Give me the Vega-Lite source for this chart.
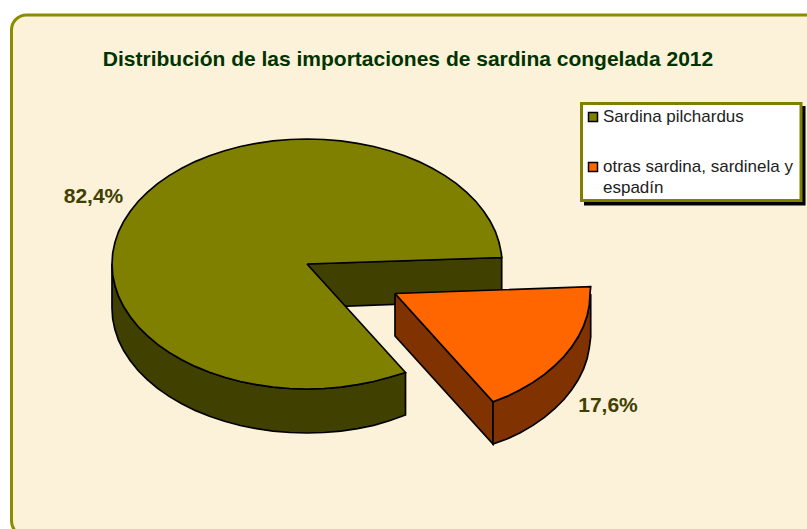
{"$schema":"https://vega.github.io/schema/vega-lite/v6.json","width":807,"height":529,"autosize":{"type":"fit","contains":"padding"},"padding":0,"background":"#ffffff","view":{"stroke":null},
"datasets":{
"panel":[{"x":11.5,"y":15,"x2":840,"y2":536}],
"sombra":[{"x":584,"y":106,"x2":805.5,"y2":205.5}],
"caja":[{"x":581.5,"y":103.5,"x2":801,"y2":200.5}],
"pie":[
{"pieza":"pared interior","n":1,"x":307,"y":264},{"pieza":"pared interior","n":2,"x":501.7,"y":257.5},{"pieza":"pared interior","n":3,"x":501.7,"y":300.5},{"pieza":"pared interior","n":4,"x":307,"y":307.5},{"pieza":"pared interior","n":5,"x":307,"y":264},
{"pieza":"pared exterior","n":1,"x":405.5,"y":372.5},{"pieza":"pared exterior","n":1.5,"x":389.4,"y":377.3},{"pieza":"pared exterior","n":2,"x":373.7,"y":381.5},{"pieza":"pared exterior","n":2.5,"x":357.5,"y":384.7},{"pieza":"pared exterior","n":3,"x":340.9,"y":387.1},{"pieza":"pared exterior","n":3.5,"x":324,"y":388.5},{"pieza":"pared exterior","n":4,"x":307,"y":389},{"pieza":"pared exterior","n":4.5,"x":290,"y":388.5},{"pieza":"pared exterior","n":5,"x":273.1,"y":387.1},{"pieza":"pared exterior","n":5.5,"x":256.5,"y":384.7},{"pieza":"pared exterior","n":6,"x":240.3,"y":381.5},{"pieza":"pared exterior","n":6.5,"x":224.6,"y":377.3},{"pieza":"pared exterior","n":7,"x":209.5,"y":372.3},{"pieza":"pared exterior","n":7.5,"x":195.1,"y":366.4},{"pieza":"pared exterior","n":8,"x":181.7,"y":359.8},{"pieza":"pared exterior","n":8.5,"x":169.1,"y":352.4},{"pieza":"pared exterior","n":9,"x":157.6,"y":344.4},{"pieza":"pared exterior","n":9.5,"x":147.3,"y":335.7},{"pieza":"pared exterior","n":10,"x":138.1,"y":326.5},{"pieza":"pared exterior","n":10.5,"x":130.3,"y":316.8},{"pieza":"pared exterior","n":11,"x":123.8,"y":306.8},{"pieza":"pared exterior","n":11.5,"x":118.6,"y":296.4},{"pieza":"pared exterior","n":12,"x":115,"y":285.7},{"pieza":"pared exterior","n":12.5,"x":112.7,"y":274.9},{"pieza":"pared exterior","n":13,"x":112,"y":264},
{"pieza":"pared exterior","n":14,"x":112,"y":308},{"pieza":"pared exterior","n":14.5,"x":112.7,"y":318.9},{"pieza":"pared exterior","n":15,"x":115,"y":329.7},{"pieza":"pared exterior","n":15.5,"x":118.6,"y":340.4},{"pieza":"pared exterior","n":16,"x":123.8,"y":350.8},{"pieza":"pared exterior","n":16.5,"x":130.3,"y":360.8},{"pieza":"pared exterior","n":17,"x":138.1,"y":370.5},{"pieza":"pared exterior","n":17.5,"x":147.3,"y":379.7},{"pieza":"pared exterior","n":18,"x":157.6,"y":388.4},{"pieza":"pared exterior","n":18.5,"x":169.1,"y":396.4},{"pieza":"pared exterior","n":19,"x":181.7,"y":403.8},{"pieza":"pared exterior","n":19.5,"x":195.1,"y":410.4},{"pieza":"pared exterior","n":20,"x":209.5,"y":416.3},{"pieza":"pared exterior","n":20.5,"x":224.6,"y":421.3},{"pieza":"pared exterior","n":21,"x":240.3,"y":425.5},{"pieza":"pared exterior","n":21.5,"x":256.5,"y":428.7},{"pieza":"pared exterior","n":22,"x":273.1,"y":431.1},{"pieza":"pared exterior","n":22.5,"x":290,"y":432.5},{"pieza":"pared exterior","n":23,"x":307,"y":433},{"pieza":"pared exterior","n":23.5,"x":324,"y":432.5},{"pieza":"pared exterior","n":24,"x":340.9,"y":431.1},{"pieza":"pared exterior","n":24.5,"x":357.5,"y":428.7},{"pieza":"pared exterior","n":25,"x":373.7,"y":425.3},{"pieza":"pared exterior","n":25.5,"x":389.4,"y":420.8},{"pieza":"pared exterior","n":26,"x":405.5,"y":415},{"pieza":"pared exterior","n":27,"x":405.5,"y":372.5},
{"pieza":"Sardina pilchardus","n":1,"x":307,"y":264},{"pieza":"Sardina pilchardus","n":2,"x":405.5,"y":372.5},{"pieza":"Sardina pilchardus","n":2.5,"x":389.4,"y":377.3},{"pieza":"Sardina pilchardus","n":3,"x":373.7,"y":381.5},{"pieza":"Sardina pilchardus","n":3.5,"x":357.5,"y":384.7},{"pieza":"Sardina pilchardus","n":4,"x":340.9,"y":387.1},{"pieza":"Sardina pilchardus","n":4.5,"x":324,"y":388.5},{"pieza":"Sardina pilchardus","n":5,"x":307,"y":389},{"pieza":"Sardina pilchardus","n":5.5,"x":290,"y":388.5},{"pieza":"Sardina pilchardus","n":6,"x":273.1,"y":387.1},{"pieza":"Sardina pilchardus","n":6.5,"x":256.5,"y":384.7},{"pieza":"Sardina pilchardus","n":7,"x":240.3,"y":381.5},{"pieza":"Sardina pilchardus","n":7.5,"x":224.6,"y":377.3},{"pieza":"Sardina pilchardus","n":8,"x":209.5,"y":372.3},{"pieza":"Sardina pilchardus","n":8.5,"x":195.1,"y":366.4},{"pieza":"Sardina pilchardus","n":9,"x":181.7,"y":359.8},{"pieza":"Sardina pilchardus","n":9.5,"x":169.1,"y":352.4},{"pieza":"Sardina pilchardus","n":10,"x":157.6,"y":344.4},{"pieza":"Sardina pilchardus","n":10.5,"x":147.3,"y":335.7},{"pieza":"Sardina pilchardus","n":11,"x":138.1,"y":326.5},{"pieza":"Sardina pilchardus","n":11.5,"x":130.3,"y":316.8},{"pieza":"Sardina pilchardus","n":12,"x":123.8,"y":306.8},{"pieza":"Sardina pilchardus","n":12.5,"x":118.6,"y":296.4},{"pieza":"Sardina pilchardus","n":13,"x":115,"y":285.7},{"pieza":"Sardina pilchardus","n":13.5,"x":112.7,"y":274.9},{"pieza":"Sardina pilchardus","n":14,"x":112,"y":264},{"pieza":"Sardina pilchardus","n":14.5,"x":112.7,"y":253.1},{"pieza":"Sardina pilchardus","n":15,"x":115,"y":242.3},{"pieza":"Sardina pilchardus","n":15.5,"x":118.6,"y":231.6},{"pieza":"Sardina pilchardus","n":16,"x":123.8,"y":221.2},{"pieza":"Sardina pilchardus","n":16.5,"x":130.3,"y":211.2},{"pieza":"Sardina pilchardus","n":17,"x":138.1,"y":201.5},{"pieza":"Sardina pilchardus","n":17.5,"x":147.3,"y":192.3},{"pieza":"Sardina pilchardus","n":18,"x":157.6,"y":183.6},{"pieza":"Sardina pilchardus","n":18.5,"x":169.1,"y":175.6},{"pieza":"Sardina pilchardus","n":19,"x":181.7,"y":168.2},{"pieza":"Sardina pilchardus","n":19.5,"x":195.1,"y":161.6},{"pieza":"Sardina pilchardus","n":20,"x":209.5,"y":155.8},{"pieza":"Sardina pilchardus","n":20.5,"x":224.6,"y":150.7},{"pieza":"Sardina pilchardus","n":21,"x":240.3,"y":146.5},{"pieza":"Sardina pilchardus","n":21.5,"x":256.5,"y":143.3},{"pieza":"Sardina pilchardus","n":22,"x":273.1,"y":140.9},{"pieza":"Sardina pilchardus","n":22.5,"x":290,"y":139.5},{"pieza":"Sardina pilchardus","n":23,"x":307,"y":139},{"pieza":"Sardina pilchardus","n":23.5,"x":324,"y":139.5},{"pieza":"Sardina pilchardus","n":24,"x":340.9,"y":140.9},{"pieza":"Sardina pilchardus","n":24.5,"x":357.5,"y":143.3},{"pieza":"Sardina pilchardus","n":25,"x":373.7,"y":146.5},{"pieza":"Sardina pilchardus","n":25.5,"x":389.4,"y":150.7},{"pieza":"Sardina pilchardus","n":26,"x":404.5,"y":155.7},{"pieza":"Sardina pilchardus","n":26.5,"x":418.9,"y":161.6},{"pieza":"Sardina pilchardus","n":27,"x":432.3,"y":168.2},{"pieza":"Sardina pilchardus","n":27.5,"x":444.9,"y":175.6},{"pieza":"Sardina pilchardus","n":28,"x":456.4,"y":183.6},{"pieza":"Sardina pilchardus","n":28.5,"x":466.7,"y":192.3},{"pieza":"Sardina pilchardus","n":29,"x":475.9,"y":201.5},{"pieza":"Sardina pilchardus","n":29.5,"x":483.7,"y":211.2},{"pieza":"Sardina pilchardus","n":30,"x":490.2,"y":221.2},{"pieza":"Sardina pilchardus","n":30.5,"x":495.4,"y":231.6},{"pieza":"Sardina pilchardus","n":31,"x":499,"y":242.3},{"pieza":"Sardina pilchardus","n":31.5,"x":501.3,"y":253.1},{"pieza":"Sardina pilchardus","n":32,"x":501.7,"y":257.5},{"pieza":"Sardina pilchardus","n":33,"x":307,"y":264},
{"pieza":"pared corte","n":1,"x":395,"y":293.5},{"pieza":"pared corte","n":2,"x":493,"y":401.7},{"pieza":"pared corte","n":3,"x":493,"y":444},{"pieza":"pared corte","n":4,"x":395,"y":336},{"pieza":"pared corte","n":5,"x":395,"y":293.5},
{"pieza":"pared curva","n":1,"x":493,"y":401.7},{"pieza":"pared curva","n":1.5,"x":506.9,"y":396.4},{"pieza":"pared curva","n":2,"x":520.3,"y":389.8},{"pieza":"pared curva","n":2.5,"x":532.9,"y":382.4},{"pieza":"pared curva","n":3,"x":544.4,"y":374.4},{"pieza":"pared curva","n":3.5,"x":554.7,"y":365.7},{"pieza":"pared curva","n":4,"x":563.9,"y":356.5},{"pieza":"pared curva","n":4.5,"x":571.7,"y":346.8},{"pieza":"pared curva","n":5,"x":578.2,"y":336.8},{"pieza":"pared curva","n":5.5,"x":583.4,"y":326.4},{"pieza":"pared curva","n":6,"x":587.1,"y":315.7},{"pieza":"pared curva","n":6.5,"x":589.3,"y":304.9},{"pieza":"pared curva","n":7,"x":590.7,"y":294},{"pieza":"pared curva","n":8,"x":590.7,"y":337},{"pieza":"pared curva","n":8.5,"x":589.3,"y":347.9},{"pieza":"pared curva","n":9,"x":587.1,"y":358.7},{"pieza":"pared curva","n":9.5,"x":583.4,"y":369.4},{"pieza":"pared curva","n":10,"x":578.2,"y":379.8},{"pieza":"pared curva","n":10.5,"x":571.7,"y":389.8},{"pieza":"pared curva","n":11,"x":563.9,"y":399.5},{"pieza":"pared curva","n":11.5,"x":554.7,"y":408.7},{"pieza":"pared curva","n":12,"x":544.4,"y":417.4},{"pieza":"pared curva","n":12.5,"x":532.9,"y":425.4},{"pieza":"pared curva","n":13,"x":520.3,"y":432.8},{"pieza":"pared curva","n":13.5,"x":506.9,"y":439},{"pieza":"pared curva","n":14,"x":493,"y":444},{"pieza":"pared curva","n":15,"x":493,"y":401.7},
{"pieza":"otras sardina, sardinela y espadín","n":1,"x":395,"y":293.5},{"pieza":"otras sardina, sardinela y espadín","n":2,"x":590.7,"y":286.7},{"pieza":"otras sardina, sardinela y espadín","n":3,"x":590,"y":294},{"pieza":"otras sardina, sardinela y espadín","n":3.5,"x":589.3,"y":304.9},{"pieza":"otras sardina, sardinela y espadín","n":4,"x":587.1,"y":315.7},{"pieza":"otras sardina, sardinela y espadín","n":4.5,"x":583.4,"y":326.4},{"pieza":"otras sardina, sardinela y espadín","n":5,"x":578.2,"y":336.8},{"pieza":"otras sardina, sardinela y espadín","n":5.5,"x":571.7,"y":346.8},{"pieza":"otras sardina, sardinela y espadín","n":6,"x":563.9,"y":356.5},{"pieza":"otras sardina, sardinela y espadín","n":6.5,"x":554.7,"y":365.7},{"pieza":"otras sardina, sardinela y espadín","n":7,"x":544.4,"y":374.4},{"pieza":"otras sardina, sardinela y espadín","n":7.5,"x":532.9,"y":382.4},{"pieza":"otras sardina, sardinela y espadín","n":8,"x":520.3,"y":389.8},{"pieza":"otras sardina, sardinela y espadín","n":8.5,"x":506.9,"y":396.4},{"pieza":"otras sardina, sardinela y espadín","n":9,"x":493,"y":401.7},{"pieza":"otras sardina, sardinela y espadín","n":10,"x":395,"y":293.5}
],
"simbolos":[{"pieza":"Sardina pilchardus","x":593,"y":117},{"pieza":"otras sardina, sardinela y espadín","x":593,"y":167}],
"leyenda":[{"texto":"Sardina pilchardus","x":603,"y":117},{"texto":"otras sardina, sardinela y","x":603,"y":167},{"texto":"espadín","x":603,"y":188}],
"valores":[{"texto":"82,4%","x":93.5,"y":197},{"texto":"17,6%","x":608,"y":406}],
"titulo":[{"texto":"Distribución de las importaciones de sardina congelada 2012","x":408,"y":60}]
},
"encoding":{
"x":{"field":"x","type":"quantitative","scale":{"domain":[0,807],"nice":false,"zero":false},"axis":null},
"y":{"field":"y","type":"quantitative","scale":{"domain":[529,0],"nice":false,"zero":false},"axis":null}
},
"layer":[
{"data":{"name":"panel"},"mark":{"type":"rect","fill":"#FCF1D9","stroke":"#8C8C00","strokeWidth":3,"cornerRadius":15,"clip":true},"encoding":{"x2":{"field":"x2"},"y2":{"field":"y2"}}},
{"data":{"name":"pie"},"mark":{"type":"line","stroke":"#000000","strokeWidth":1.7,"strokeJoin":"miter","interpolate":"linear"},"encoding":{"order":{"field":"n","type":"quantitative"},"fill":{"field":"pieza","type":"nominal","legend":null,"sort":null,"scale":{"domain":["pared interior","pared exterior","Sardina pilchardus","pared corte","pared curva","otras sardina, sardinela y espadín"],"range":["#404000","#404000","#808000","#803300","#803300","#FF6600"]}}}},
{"data":{"name":"sombra"},"mark":{"type":"rect","fill":"#000000"},"encoding":{"x2":{"field":"x2"},"y2":{"field":"y2"}}},
{"data":{"name":"caja"},"mark":{"type":"rect","fill":"#ffffff","stroke":"#808000","strokeWidth":3},"encoding":{"x2":{"field":"x2"},"y2":{"field":"y2"}}},
{"data":{"name":"simbolos"},"mark":{"type":"point","shape":"square","filled":true,"size":81,"stroke":"#000000","strokeWidth":1.5,"opacity":1},"encoding":{"fill":{"field":"pieza","type":"nominal","legend":null}}},
{"data":{"name":"leyenda"},"mark":{"type":"text","font":"Liberation Sans","fontSize":17,"align":"left","baseline":"middle","color":"#222222"},"encoding":{"text":{"field":"texto"}}},
{"data":{"name":"valores"},"mark":{"type":"text","font":"Liberation Sans","fontSize":21,"fontWeight":"bold","align":"center","baseline":"middle","color":"#404000"},"encoding":{"text":{"field":"texto"}}},
{"data":{"name":"titulo"},"mark":{"type":"text","font":"Liberation Sans","fontSize":21,"fontWeight":"bold","align":"center","baseline":"middle","color":"#003300"},"encoding":{"text":{"field":"texto"}}}
]}
